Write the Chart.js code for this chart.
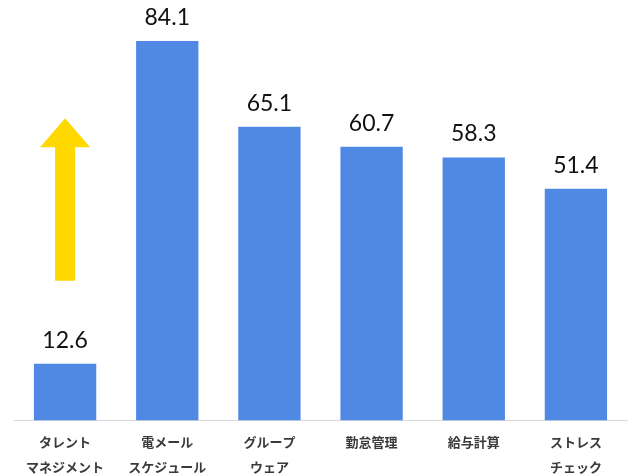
<!DOCTYPE html>
<html>
<head>
<meta charset="utf-8">
<script src="https://cdn.jsdelivr.net/npm/chart.js@4/dist/chart.umd.min.js"></script>
<style>
  html, body { margin: 0; padding: 0; background: #fff; }
  #wrap { width: 629px; height: 474px; }
</style>
</head>
<body>
<div id="wrap"><canvas id="myBarChart"></canvas></div>
<script>
const categories = [
    ['タレント', 'マネジメント'],
    ['電メール', 'スケジュール'],
    ['グループ', 'ウェア'],
    ['勤怠管理'],
    ['給与計算'],
    ['ストレス', 'チェック']
];
const values = [12.6, 84.1, 65.1, 60.7, 58.3, 51.4];
// yellow arrow above the first bar, in value units
const arrowFrom = 31;
const arrowTo = 67;

const valueLabels = {
    id: 'valueLabels',
    afterDatasetsDraw(chart) {
        const ctx = chart.ctx;
        const meta = chart.getDatasetMeta(0);
        ctx.save();
        ctx.fillStyle = '#111';
        ctx.font = '23px Lato, "Liberation Sans", sans-serif';
        ctx.textAlign = 'center';
        ctx.textBaseline = 'bottom';
        meta.data.forEach((bar, i) => {
            ctx.fillText(values[i].toFixed(1), bar.x, bar.y - 12);
        });
        ctx.restore();
    }
};

const arrow = {
    id: 'arrow',
    beforeDatasetsDraw(chart) {
        const ctx = chart.ctx;
        const x = chart.scales.x.getPixelForValue(0);
        const yBottom = chart.scales.y.getPixelForValue(arrowFrom);
        const yTip = chart.scales.y.getPixelForValue(arrowTo);
        const shaft = 10, head = 25, headH = 29;
        ctx.save();
        ctx.fillStyle = '#FFD800';
        ctx.beginPath();
        ctx.moveTo(x - shaft, yBottom);
        ctx.lineTo(x - shaft, yTip + headH);
        ctx.lineTo(x - head, yTip + headH);
        ctx.lineTo(x, yTip);
        ctx.lineTo(x + head, yTip + headH);
        ctx.lineTo(x + shaft, yTip + headH);
        ctx.lineTo(x + shaft, yBottom);
        ctx.closePath();
        ctx.fill();
        ctx.restore();
    }
};

new Chart(document.getElementById('myBarChart'), {
    type: 'bar',
    data: {
        labels: categories,
        datasets: [{
            data: values,
            backgroundColor: '#5089E3',
            barPercentage: 0.61,
            categoryPercentage: 1
        }]
    },
    options: {
        responsive: true,
        maintainAspectRatio: false,
        animation: false,
        layout: { padding: { top: 28, left: 14, right: 2, bottom: -6 } },
        plugins: {
            legend: { display: false },
            tooltip: { enabled: false }
        },
        scales: {
            x: {
                grid: { display: false },
                border: { display: true, color: '#d9d9d9', width: 1 },
                ticks: {
                    color: '#3a3a3a',
                    padding: 1,
                    maxRotation: 0,
                    autoSkip: false,
                    font: { family: '"Noto Sans CJK JP", sans-serif', size: 13, weight: 'bold', lineHeight: 1.9 }
                }
            },
            y: {
                display: false,
                min: 0,
                max: 87
            }
        }
    },
    plugins: [arrow, valueLabels]
});
</script>
</body>
</html>
